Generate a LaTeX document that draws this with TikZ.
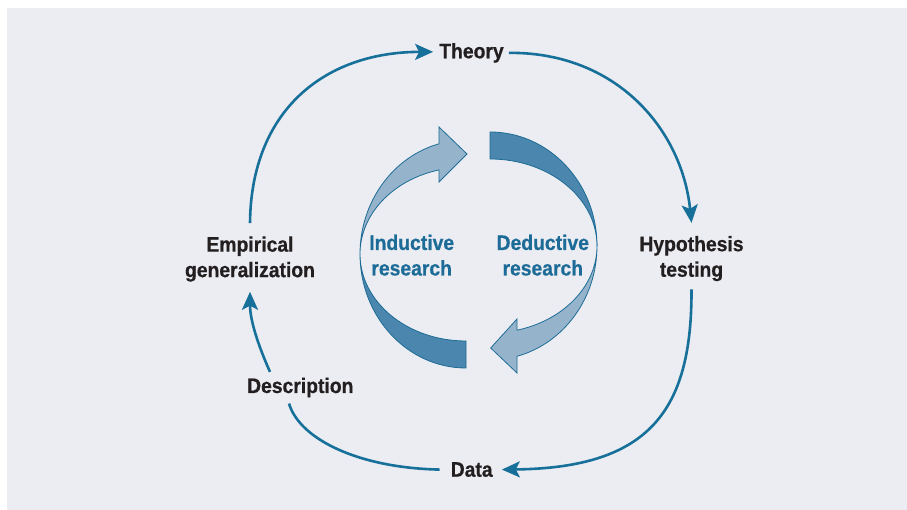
\documentclass[tikz,border=0pt]{standalone}
\usepackage{fontspec}
\setmainfont{Liberation Sans}[FakeStretch=0.92, BoldFeatures={FakeBold=0.6}]
\usetikzlibrary{arrows.meta}
\definecolor{bg}{HTML}{ECEDF2}
\definecolor{flow}{HTML}{16709A}
\definecolor{txt}{HTML}{231F20}
\definecolor{ribdark}{HTML}{4A86AE}
\definecolor{riblight}{HTML}{95B4CC}
\definecolor{ribline}{HTML}{1D6C96}
\definecolor{bluetxt}{HTML}{1D6C98}
\begin{document}
\begin{tikzpicture}[x=1pt,y=1pt,
  lbl/.style={font=\fontsize{21}{25.5}\selectfont\bfseries, text=txt, inner sep=0pt, align=center},
  blbl/.style={lbl, text=bluetxt},
  flowarrow/.style={draw=flow, line width=2.6pt, -{Stealth[length=18pt,width=16pt,inset=4pt]}},
  flowline/.style={draw=flow, line width=2.6pt},
  ribbon/.style={draw=ribline, line width=0.8pt, line join=miter}
]
\useasboundingbox (0,0) rectangle (907,510);
\fill[white] (0,0) rectangle (907,510);
\fill[bg] (7,0) rectangle (907,502);

% text nodes
\node[lbl, anchor=base] (theory) at (471.5,451.7) {Theory};
\node[lbl] (hyp) at (691.5,251.4) {Hypothesis\\testing};
\node[lbl, anchor=base] (data) at (471.7,33.3) {Data};
\node[lbl, anchor=base] (desc) at (300.3,117) {Description};
\node[lbl] (emp) at (250,251) {Empirical\\generalization};
\node[blbl] (ind) at (411.7,254.8) {Inductive\\research};
\node[blbl] (ded) at (542.8,254.8) {Deductive\\research};

% outer cycle
\draw[flowarrow] ([yshift=13pt]emp.north) .. controls (251,400) and (325,458) .. ([xshift=-6pt,yshift=1pt]theory.west);
\draw[flowarrow] ([xshift=5pt]theory.east) .. controls (617,458) and (682,380) .. ([yshift=13pt]hyp.north);
\draw[flowarrow] ([yshift=-8pt]hyp.south) .. controls (692,100) and (650,42) .. ([xshift=9pt]data.east);
\draw[flowline] ([xshift=-11pt]data.west) .. controls (360,42) and (300,70) .. ([xshift=-11.3pt,yshift=-6pt]desc.south);
\draw[flowarrow] ([xshift=-30.3pt,yshift=5.7pt]desc.north) .. controls (258,165) and (250,190) .. ([yshift=-10pt]emp.south);

% inner ribbons: left (inductive)
\path[ribbon, fill=riblight] (439,366.2)
  arc[start angle=104.76, end angle=180, x radius=106pt, y radius=114pt]
  arc[start angle=180, end angle=104.76, x radius=106pt, y radius=87pt]
  -- (439,328) -- (467,356) -- (439,383) -- cycle;
\path[ribbon, fill=ribdark] (360,256)
  arc[start angle=180, end angle=270, x radius=106pt, y radius=114pt]
  -- (466,169)
  arc[start angle=270, end angle=180, x radius=106pt, y radius=87pt]
  -- cycle;
% right (deductive)
\path[ribbon, fill=ribdark] (490,378)
  arc[start angle=90, end angle=0, x radius=107pt, y radius=114pt]
  arc[start angle=0, end angle=90, x radius=107pt, y radius=87pt]
  -- cycle;
\path[ribbon, fill=riblight] (597,264)
  arc[start angle=0, end angle=-75.38, x radius=107pt, y radius=114pt]
  -- (517,137) -- (490.7,162) -- (517,191) -- (517,179.8)
  arc[start angle=-75.38, end angle=0, x radius=107pt, y radius=87pt]
  -- cycle;
\end{tikzpicture}
\end{document}
